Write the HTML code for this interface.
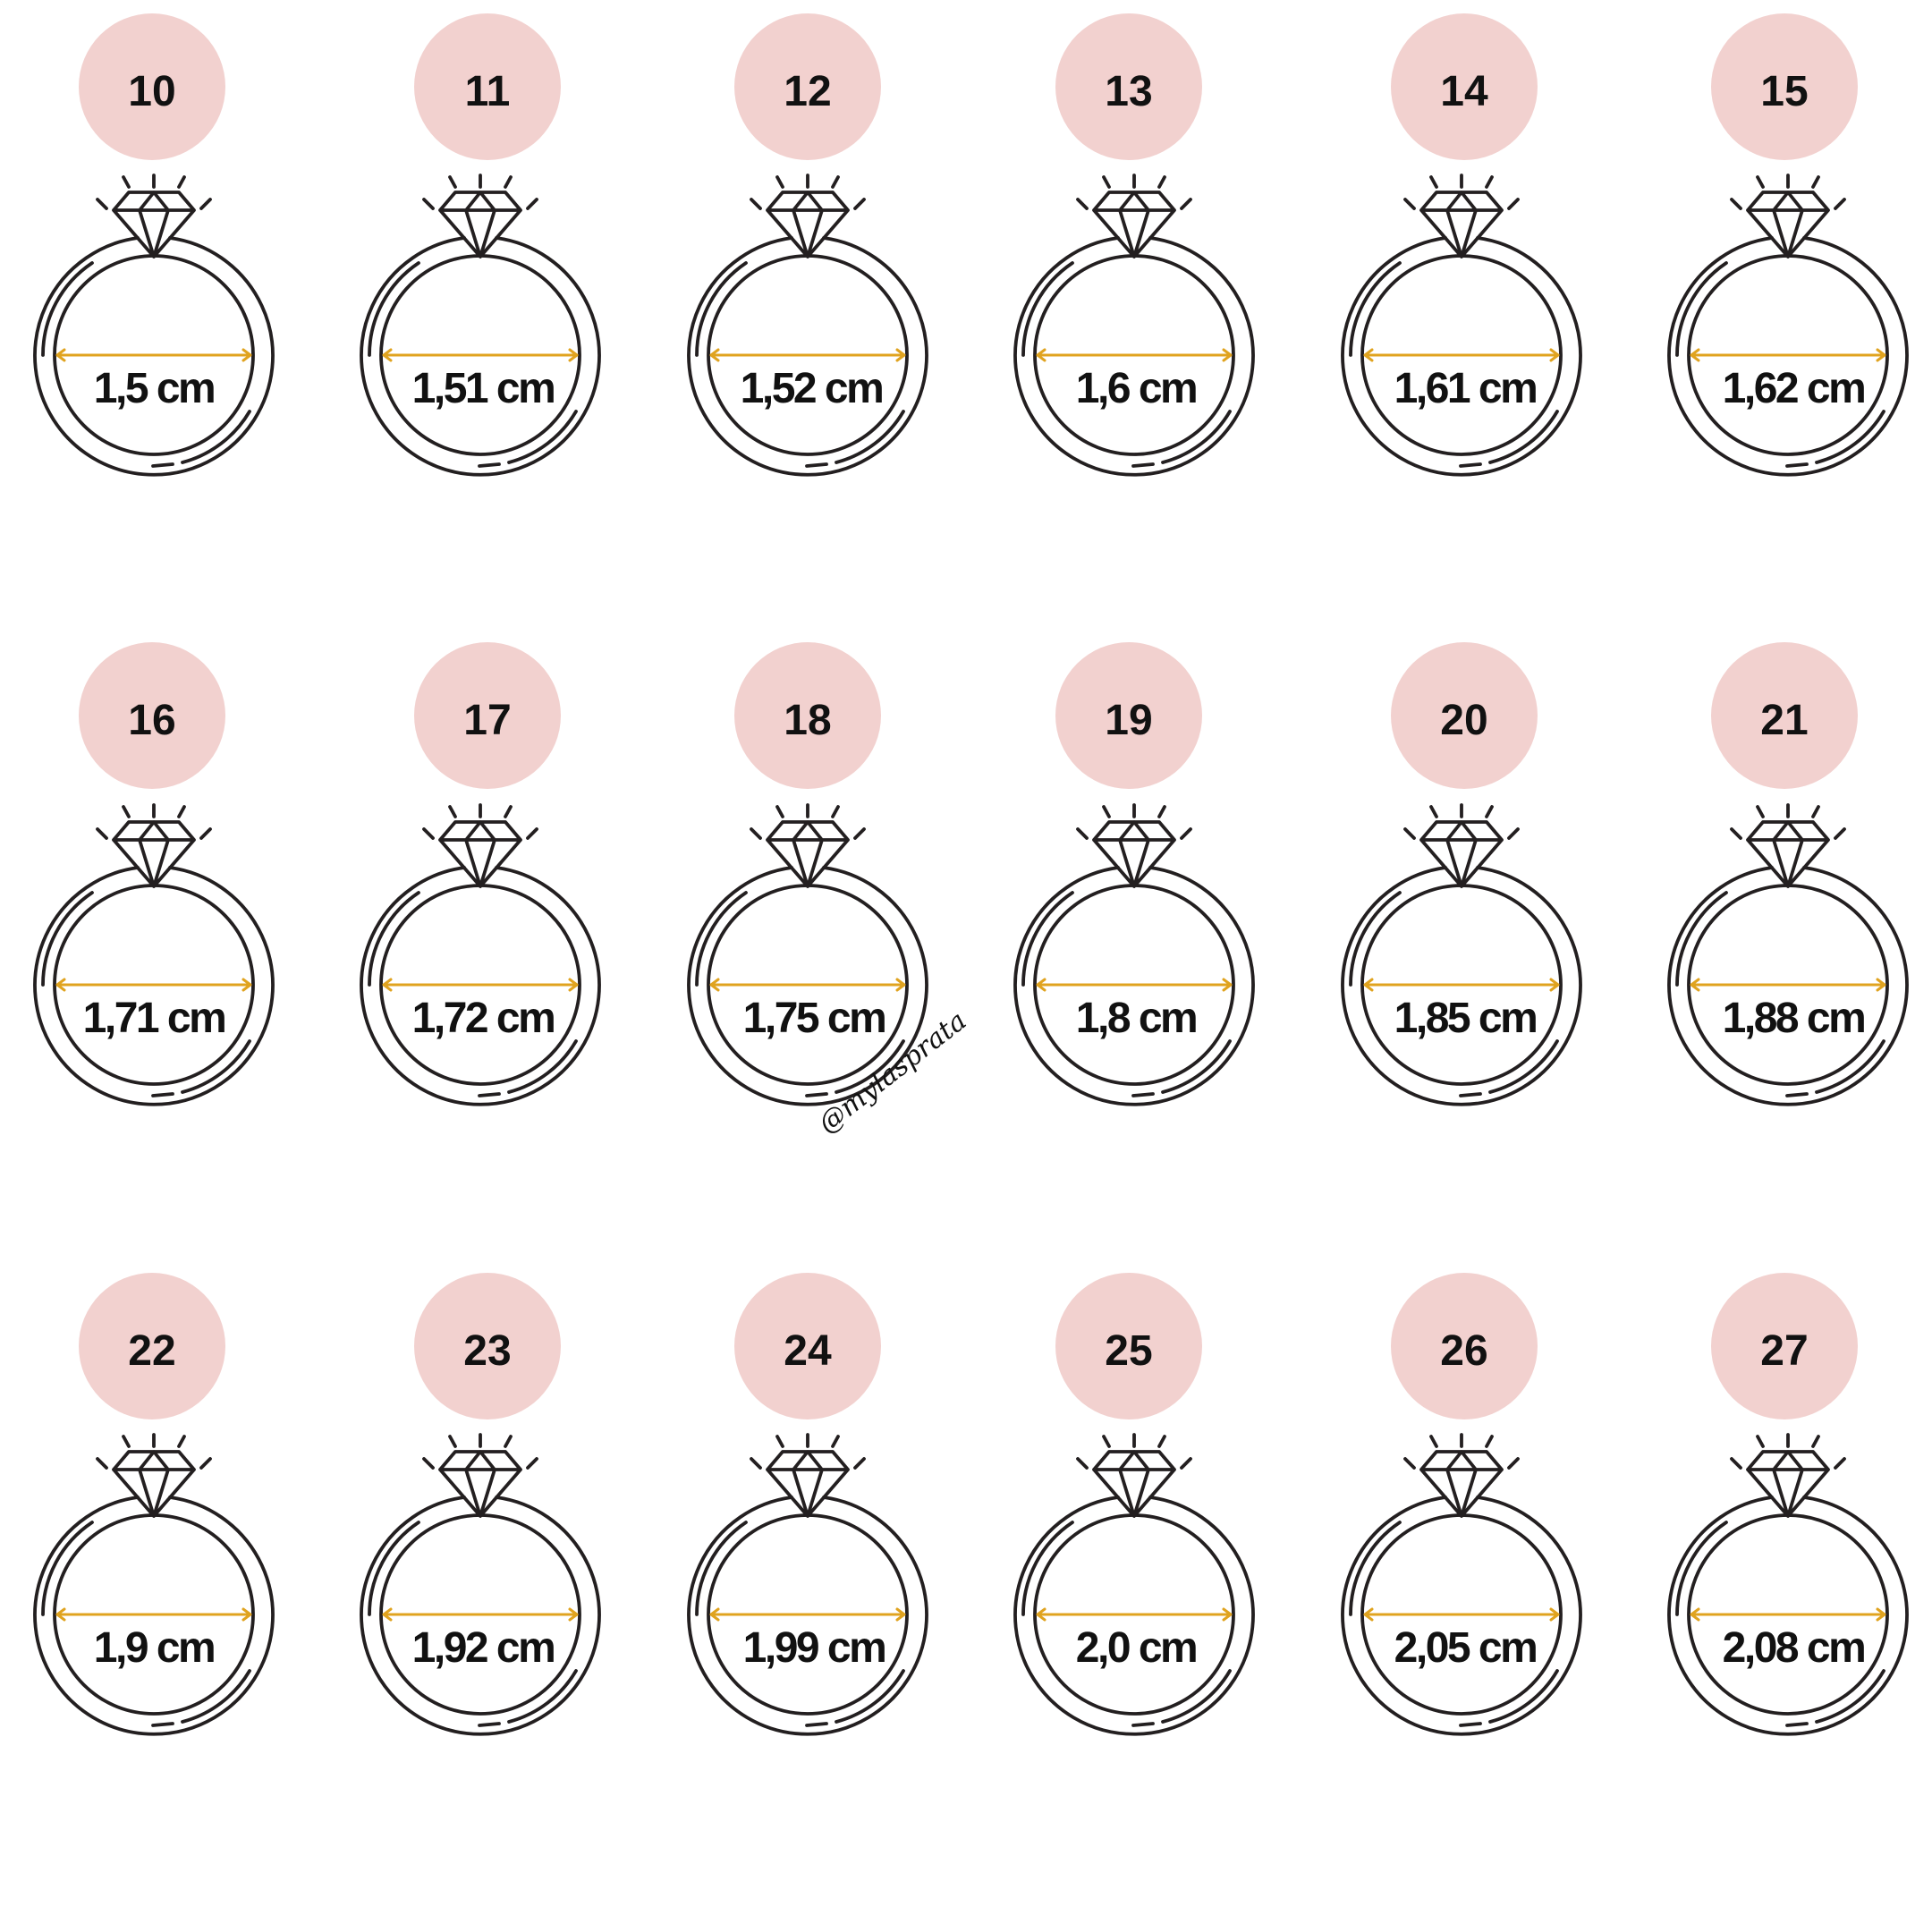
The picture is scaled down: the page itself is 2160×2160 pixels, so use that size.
<!DOCTYPE html>
<html><head><meta charset="utf-8"><style>
html,body{margin:0;padding:0;background:#fff}
svg{display:block}
.n{font-family:"Liberation Sans",sans-serif;font-weight:bold;font-size:48px;text-anchor:middle;fill:#111}
.c{font-family:"Liberation Sans",sans-serif;font-weight:bold;font-size:48px;text-anchor:middle;fill:#111;letter-spacing:-2.5px}
.w{font-family:"DejaVu Serif","Liberation Serif",serif;font-style:italic;font-size:30px;fill:#111}
</style></head><body>
<svg width="2160" height="2160" viewBox="0 0 2160 2160" xmlns="http://www.w3.org/2000/svg" xmlns:xlink="http://www.w3.org/1999/xlink">
<defs>
<g id="r" fill="none" stroke="#231f20" stroke-width="3.8" stroke-linecap="round" stroke-linejoin="round">
<path d="M154,266 A133,133 0 1 0 190,266"/>
<circle cx="172" cy="397" r="111"/>
<path d="M103,294 A124,124 0 0 0 48,397"/>
<path d="M279,460 A124,124 0 0 1 204,517"/>
<path d="M171,521 L193,519"/>
<path d="M144,215 L200,215 L217,235 L172,287 L127,235 Z M127,235 L217,235 M172,215 L156,235 L172,287 L188,235 Z"/>
<path d="M172,196 L172,209 M138,198 L144,209 M206,198 L200,209 M109,223 L119,233 M235,223 L225,233"/>
<g stroke="#e0a31f" stroke-width="3"><path d="M64,397 L280,397 M72,391 L64,397 L72,403 M272,391 L280,397 L272,403"/></g>
</g>
<g id="p"><circle cx="0" cy="97" r="82" fill="#f2d1cf"/></g>
</defs>

<use href="#p" xlink:href="#p" x="170" y="0"/><use href="#p" xlink:href="#p" x="545" y="0"/><use href="#p" xlink:href="#p" x="903" y="0"/><use href="#p" xlink:href="#p" x="1262" y="0"/><use href="#p" xlink:href="#p" x="1637" y="0"/><use href="#p" xlink:href="#p" x="1995" y="0"/>
<use href="#p" xlink:href="#p" x="170" y="703"/><use href="#p" xlink:href="#p" x="545" y="703"/><use href="#p" xlink:href="#p" x="903" y="703"/><use href="#p" xlink:href="#p" x="1262" y="703"/><use href="#p" xlink:href="#p" x="1637" y="703"/><use href="#p" xlink:href="#p" x="1995" y="703"/>
<use href="#p" xlink:href="#p" x="170" y="1408"/><use href="#p" xlink:href="#p" x="545" y="1408"/><use href="#p" xlink:href="#p" x="903" y="1408"/><use href="#p" xlink:href="#p" x="1262" y="1408"/><use href="#p" xlink:href="#p" x="1637" y="1408"/><use href="#p" xlink:href="#p" x="1995" y="1408"/>

<use href="#r" xlink:href="#r" x="0" y="0"/><use href="#r" xlink:href="#r" x="365" y="0"/><use href="#r" xlink:href="#r" x="731" y="0"/><use href="#r" xlink:href="#r" x="1096" y="0"/><use href="#r" xlink:href="#r" x="1462" y="0"/><use href="#r" xlink:href="#r" x="1827" y="0"/>
<use href="#r" xlink:href="#r" x="0" y="704"/><use href="#r" xlink:href="#r" x="365" y="704"/><use href="#r" xlink:href="#r" x="731" y="704"/><use href="#r" xlink:href="#r" x="1096" y="704"/><use href="#r" xlink:href="#r" x="1462" y="704"/><use href="#r" xlink:href="#r" x="1827" y="704"/>
<use href="#r" xlink:href="#r" x="0" y="1408"/><use href="#r" xlink:href="#r" x="365" y="1408"/><use href="#r" xlink:href="#r" x="731" y="1408"/><use href="#r" xlink:href="#r" x="1096" y="1408"/><use href="#r" xlink:href="#r" x="1462" y="1408"/><use href="#r" xlink:href="#r" x="1827" y="1408"/>

<text class="n" x="170" y="118">10</text><text class="n" x="545" y="118">11</text><text class="n" x="903" y="118">12</text><text class="n" x="1262" y="118">13</text><text class="n" x="1637" y="118">14</text><text class="n" x="1995" y="118">15</text>
<text class="n" x="170" y="821">16</text><text class="n" x="545" y="821">17</text><text class="n" x="903" y="821">18</text><text class="n" x="1262" y="821">19</text><text class="n" x="1637" y="821">20</text><text class="n" x="1995" y="821">21</text>
<text class="n" x="170" y="1526">22</text><text class="n" x="545" y="1526">23</text><text class="n" x="903" y="1526">24</text><text class="n" x="1262" y="1526">25</text><text class="n" x="1637" y="1526">26</text><text class="n" x="1995" y="1526">27</text>

<text class="c" x="172" y="450">1,5 cm</text><text class="c" x="540" y="450">1,51 cm</text><text class="c" x="907" y="450">1,52 cm</text><text class="c" x="1270" y="450">1,6 cm</text><text class="c" x="1638" y="450">1,61 cm</text><text class="c" x="2005" y="450">1,62 cm</text>
<text class="c" x="172" y="1154">1,71 cm</text><text class="c" x="540" y="1154">1,72 cm</text><text class="c" x="910" y="1154">1,75 cm</text><text class="c" x="1270" y="1154">1,8 cm</text><text class="c" x="1638" y="1154">1,85 cm</text><text class="c" x="2005" y="1154">1,88 cm</text>
<text class="c" x="172" y="1858">1,9 cm</text><text class="c" x="540" y="1858">1,92 cm</text><text class="c" x="910" y="1858">1,99 cm</text><text class="c" x="1270" y="1858">2,0 cm</text><text class="c" x="1638" y="1858">2,05 cm</text><text class="c" x="2005" y="1858">2,08 cm</text>

<text class="w" x="0" y="0" transform="translate(925,1268) rotate(-38)">@mylasprata</text>
</svg>
</body></html>
